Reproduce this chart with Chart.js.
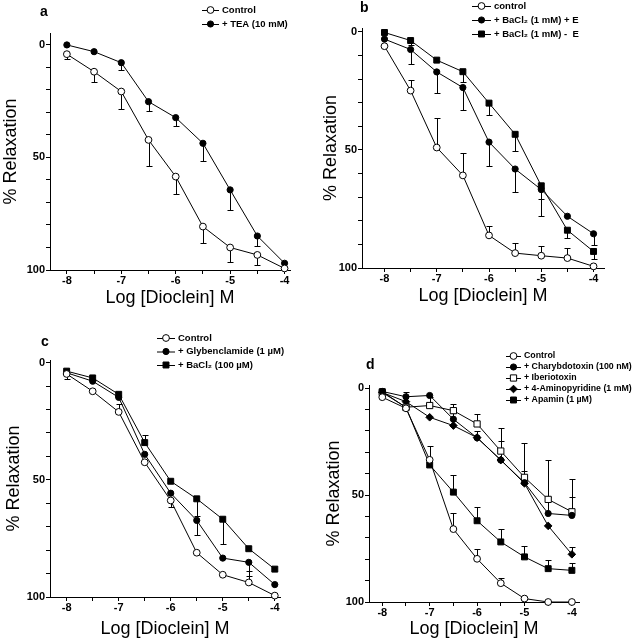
<!DOCTYPE html>
<html>
<head>
<meta charset="utf-8">
<script src="https://cdn.jsdelivr.net/npm/chart.js@4.4.1/dist/chart.umd.min.js"></script>
<style>
  body { margin: 0; background: #fff; }
  #wrap { position: relative; width: 634px; height: 640px; }
  .panel { position: absolute; width: 317px; height: 320px; }
</style>
</head>
<body>
<div id="wrap">
  <div class="panel" style="left:0;top:0"><canvas id="chartA" width="317" height="320"></canvas></div>
  <div class="panel" style="left:317px;top:0"><canvas id="chartB" width="317" height="320"></canvas></div>
  <div class="panel" style="left:0;top:320px"><canvas id="chartC" width="317" height="320"></canvas></div>
  <div class="panel" style="left:317px;top:320px"><canvas id="chartD" width="317" height="320"></canvas></div>
</div>
<script>
"use strict";

// x values (log molar dioclein) and axis ticks
const logDose = [-8, -7.5, -7, -6.5, -6, -5.5, -5, -4.5, -4];
const yTicks = [0, 10, 20, 30, 40, 50, 60, 70, 80, 90, 100];
const yLabels = [0, 50, 100];

// panel a
const aControl = [4.1, 11.9, 20.7, 42.2, 58.5, 80.7, 90.0, 93.3, 99.3];
const aControlErr = [2.3, 4.7, 7.9, 11.8, 7.9, 7.3, 6.3, 4.7, 0];
const aTEA = [0, 3, 7.9, 25.2, 32.3, 43.7, 64.4, 84.9, 97];
const aTEAErr = [0, 0, 3.2, 4.0, 3.6, 7.9, 8.9, 4.4, 0];

// panel b
const bControl = [6.1, 24.9, 49, 60.8, 86.2, 93.7, 94.8, 95.8, 99.3];
const bControlErr = [0, -4.5, -12.4, -9.4, -4.1, -4.3, -4.2, -4.3, 0];
const bBaWithE = [3.1, 7.5, 17.0, 23.6, 46.7, 58.1, 66.8, 78.1, 85.5];
const bBaWithEErr = [0, 6.1, 9.0, 9.7, 10.3, 9.9, 11.1, 0, 4.6];
const bBaNoE = [0.3, 3.7, 12, 16.9, 30.2, 43.4, 65.2, 84, 93];
const bBaNoEErr = [0, 1.9, 0, 4.2, 5.0, 7.0, 5.6, 3.4, 3.2];

// panel c
const cControl = [4.8, 12.2, 21.0, 42.5, 58.8, 81.1, 90.5, 93.8, 99.4];
const cControlErr = [2.3, 0, -3.5, 0, 2.6, 0, 0, -4.8, 0];
const cGlyb = [4.3, 7.9, 14.8, 39.1, 55.7, 67.3, 83.4, 85.2, 94.7];
const cGlybErr = [0, 0, 0, 0, 0, 6.1, 0, 5.8, 0];
const cBa = [3.6, 6.5, 13.5, 34.1, 50.6, 58.1, 66.8, 79.4, 88.1];
const cBaErr = [0, 0, 0, -3.3, 0, 7.5, 10.5, 0, 0];

// panel d
const dControl = [4.2, 9.4, 33.5, 65.9, 79.8, 91.2, 98.4, 100, 100];
const dControlErr = [0, 0, -6.3, -7.3, -4.4, -2.2, 0, 0, 0];
const dChTX = [1.5, 4.0, 3.4, 14.5, 23.2, 33.6, 44.2, 58.6, 59.5];
const dChTXErr = [0, 0, 0, -3, -3, -9.1, -5.6, -7.8, -8.7];
const dIbTX = [2.0, 8.9, 8.1, 10.5, 16.7, 29.4, 41.7, 52.0, 57.8];
const dIbTXErr = [0, -7.3, -4, -3.2, -4.7, -10.7, -16.2, -18.4, -15.2];
const d4AP = [2.0, 6.3, 13.6, 17.5, 23.1, 33.6, 44.5, 64.4, 77.7];
const d4APErr = [0, 0, 0, 0, 0, 0, 0, 0, -3.2];
const dApamin = [1.6, 9.0, 35.9, 48.6, 62.0, 71.9, 78.9, 84.4, 85.2];
const dApaminErr = [0, 0, 0, -7.8, -6.5, -5.9, -5.2, -3.9, -3.6];

const FONT = '"Liberation Sans", Arial, sans-serif';

const markers = {
  open:    { pointStyle: 'circle', pointRadius: 3.4, pointBackgroundColor: '#fff' },
  filled:  { pointStyle: 'circle', pointRadius: 3.1, pointBackgroundColor: '#000' },
  square:  { pointStyle: 'rect', pointRadius: 4.2, pointBackgroundColor: '#000' },
  openSq:  { pointStyle: 'rect', pointRadius: 4.4, pointBackgroundColor: '#fff' },
  diamond: { pointStyle: 'rectRot', pointRadius: 3.8, pointBackgroundColor: '#000' }
};

function series(label, values, errors, kind) {
  return Object.assign({
    label: label,
    data: logDose.map((x, i) => ({ x: x, y: values[i] })),
    errors: errors,
    borderColor: '#000',
    borderWidth: 1,
    pointBorderColor: '#000',
    pointBorderWidth: 1,
    pointHoverRadius: 4,
    tension: 0,
    clip: false
  }, markers[kind]);
}

// one-sided error bars, drawn under the markers
const errorBars = {
  id: 'errorBars',
  beforeDatasetsDraw(chart) {
    const ctx = chart.ctx;
    const xs = chart.scales.x, ys = chart.scales.y;
    ctx.save();
    ctx.strokeStyle = '#000';
    ctx.lineWidth = 1;
    chart.data.datasets.forEach(ds => {
      ds.data.forEach((p, i) => {
        const e = ds.errors[i];
        if (!e) return;
        const px = Math.round(xs.getPixelForValue(p.x)) + 0.5;
        const y0 = ys.getPixelForValue(p.y);
        const y1 = Math.round(ys.getPixelForValue(p.y + e)) + 0.5;
        ctx.beginPath();
        ctx.moveTo(px, y0);
        ctx.lineTo(px, y1);
        ctx.moveTo(px - 3, y1);
        ctx.lineTo(px + 3, y1);
        ctx.stroke();
      });
    });
    ctx.restore();
  }
};

// legend drawn as  -o- text , plus the panel letter
const panelDecor = {
  id: 'panelDecor',
  afterDraw(chart, args, opts) {
    const ctx = chart.ctx;
    ctx.save();
    ctx.fillStyle = '#000';
    ctx.font = 'bold 14px ' + FONT;
    ctx.textBaseline = 'middle';
    ctx.fillText(opts.letter, opts.letterX, opts.letterY);
    ctx.font = 'bold ' + opts.legFont + 'px ' + FONT;
    chart.data.datasets.forEach((ds, i) => {
      const y = opts.legY + i * opts.legDy;
      ctx.strokeStyle = '#000';
      ctx.lineWidth = 1;
      ctx.beginPath();
      ctx.moveTo(opts.legX, y + 0.5);
      ctx.lineTo(opts.legX + opts.legLen, y + 0.5);
      ctx.stroke();
      ctx.fillStyle = ds.pointBackgroundColor;
      Chart.helpers.drawPoint(ctx, {
        pointStyle: ds.pointStyle, radius: ds.pointRadius, rotation: 0, borderWidth: 1
      }, opts.legX + opts.legLen / 2, y);
      ctx.fillStyle = '#000';
      ctx.fillText(ds.label, opts.legX + opts.legLen + 3, y);
    });
    ctx.restore();
  }
};

function makeChart(canvasId, datasets, box, range, decor) {
  return new Chart(document.getElementById(canvasId), {
    type: 'line',
    data: { datasets: datasets },
    plugins: [errorBars, panelDecor],
    options: {
      responsive: false,
      animation: false,
      layout: { padding: { left: 0, top: box.top, right: 317 - box.right, bottom: 0 } },
      plugins: {
        legend: { display: false },
        tooltip: { enabled: false },
        panelDecor: decor
      },
      scales: {
        x: {
          type: 'linear',
          min: range.xMin,
          max: range.xMax,
          afterFit: s => { s.height = 320 - box.bottom; },
          afterBuildTicks: s => { s.ticks = logDose.map(v => ({ value: v })); },
          ticks: {
            color: '#000',
            padding: 0,
            maxRotation: 0,
            autoSkip: false,
            font: { family: FONT, size: 11, weight: 'bold' },
            callback: v => Number.isInteger(v) ? String(v) : ''
          },
          grid: { drawOnChartArea: false, tickLength: 4, tickColor: '#000' },
          border: { color: '#000', width: 1 },
          title: {
            display: true, text: 'Log [Dioclein] M', color: '#000',
            font: { family: FONT, size: 18 },
            padding: { top: 0, bottom: decor.xTitlePad }
          }
        },
        y: {
          type: 'linear',
          reverse: true,
          min: range.yMin,
          max: 100,
          afterFit: s => { s.width = box.left; },
          afterBuildTicks: s => { s.ticks = yTicks.map(v => ({ value: v })); },
          ticks: {
            color: '#000',
            padding: 1,
            font: { family: FONT, size: 11, weight: 'bold' },
            callback: v => yLabels.includes(v) ? String(v) : ''
          },
          grid: { drawOnChartArea: false, tickLength: 4, tickColor: '#000' },
          border: { color: '#000', width: 1 },
          title: {
            display: true, text: '% Relaxation', color: '#000',
            font: { family: FONT, size: 18 },
            padding: { top: decor.yTitlePad, bottom: 0 }
          }
        }
      }
    }
  });
}

makeChart('chartA', [
  series('Control', aControl, aControlErr, 'open'),
  series('+ TEA (10 mM)', aTEA, aTEAErr, 'filled')
], { left: 50, top: 33, right: 290, bottom: 270 },
   { xMin: -8.31, xMax: -3.9, yMin: -5.3 },
   { letter: 'a', letterX: 40, letterY: 12, legX: 202, legY: 10, legDy: 14, legLen: 17,
     legFont: 9.5, xTitlePad: 11, yTitlePad: 0 });

makeChart('chartB', [
  series('control', bControl, bControlErr, 'open'),
  series('+ BaCl\u2082 (1 mM) + E', bBaWithE, bBaWithEErr, 'filled'),
  series('+ BaCl\u2082 (1 mM) -  E', bBaNoE, bBaNoEErr, 'square')
], { left: 45, top: 28, right: 287, bottom: 268 },
   { xMin: -8.43, xMax: -3.8, yMin: -1.6 },
   { letter: 'b', letterX: 43, letterY: 8, legX: 155, legY: 6, legDy: 14, legLen: 19,
     legFont: 9.5, xTitlePad: 13, yTitlePad: 3 });

makeChart('chartC', [
  series('Control', cControl, cControlErr, 'open'),
  series('+ Glybenclamide (1 \u00b5M)', cGlyb, cGlybErr, 'filled'),
  series('+ BaCl\u2082 (100 \u00b5M)', cBa, cBaErr, 'square')
], { left: 50, top: 40, right: 280, bottom: 277 },
   { xMin: -8.32, xMax: -3.9, yMin: -1.15 },
   { letter: 'c', letterX: 41, letterY: 22, legX: 157, legY: 18, legDy: 13.5, legLen: 18,
     legFont: 9.5, xTitlePad: 0, yTitlePad: 3 });

makeChart('chartD', [
  series('Control', dControl, dControlErr, 'open'),
  series('+ Charybdotoxin (100 nM)', dChTX, dChTXErr, 'filled'),
  series('+ Iberiotoxin', dIbTX, dIbTXErr, 'openSq'),
  series('+ 4-Aminopyridine (1 mM)', d4AP, d4APErr, 'diamond'),
  series('+ Apamin (1 \u00b5M)', dApamin, dApaminErr, 'square')
], { left: 52, top: 65, right: 262, bottom: 282 },
   { xMin: -8.28, xMax: -3.85, yMin: -1.5 },
   { letter: 'd', letterX: 49, letterY: 45, legX: 189, legY: 36, legDy: 11, legLen: 15,
     legFont: 8.8, xTitlePad: 0, yTitlePad: 6 });
</script>
</body>
</html>
